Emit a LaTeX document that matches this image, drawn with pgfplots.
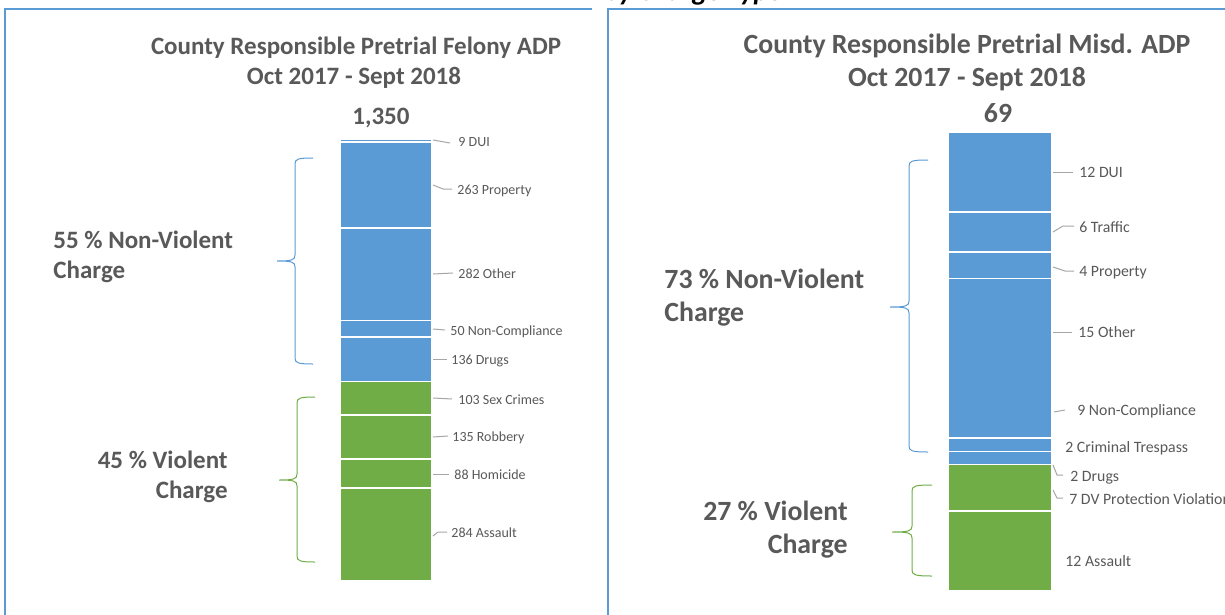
\documentclass[border=0pt]{standalone}
\usepackage{pgfplots}
\pgfplotsset{compat=1.18}
\usepackage{fontspec}
\setmainfont{Carlito}
\definecolor{cblue}{HTML}{5B9BD5}
\definecolor{cgreen}{HTML}{70AD47}
\definecolor{tgray}{HTML}{595959}
\definecolor{lgray}{HTML}{A6A6A6}
\newcommand\fs[1]{\fontsize{#1}{#1}\selectfont}
% style, x-end, x-spine, y-top, y-tip, x-tip, y-bottom
\newcommand\Brace[7]{\draw[#1] (#2,#4) .. controls ({#3+3},#4) and (#3,{#4+1}) .. (#3,{#4+6}) -- (#3,{#5-6}) .. controls (#3,{#5-1}) and ({#3-3},#5) .. (#6,#5) .. controls ({#3-3},#5) and (#3,{#5+1}) .. (#3,{#5+6}) -- (#3,{#7-6}) .. controls (#3,{#7-1}) and ({#3+3},#7) .. (#2,#7);}
\begin{document}
\begin{tikzpicture}
\path[use as bounding box] (0pt,0pt) rectangle (612.5pt,-307.5pt);
\clip (0pt,0pt) rectangle (612.5pt,-307.5pt);
\fill[white] (0pt,0pt) rectangle (612.5pt,-307.5pt);

% ---------- left chart (felony) ----------
\begin{axis}[at={(170pt,-290.5pt)}, anchor=south west, scale only axis,
  width=46pt, height=221pt, xmin=-0.5, xmax=0.5, ymin=0, ymax=1350,
  enlargelimits=false, hide axis, ybar stacked, bar width=1, clip=false]
\addplot[fill=cgreen, draw=white, line width=0.75pt] coordinates {(0,284)}; % Assault
\addplot[fill=cgreen, draw=white, line width=0.75pt] coordinates {(0,88)};  % Homicide
\addplot[fill=cgreen, draw=white, line width=0.75pt] coordinates {(0,135)}; % Robbery
\addplot[fill=cgreen, draw=white, line width=0.75pt] coordinates {(0,103)}; % Sex Crimes
\addplot[fill=cblue, draw=white, line width=0.75pt] coordinates {(0,136)};  % Drugs
\addplot[fill=cblue, draw=white, line width=0.75pt] coordinates {(0,50)};   % Non-Compliance
\addplot[fill=cblue, draw=white, line width=0.75pt] coordinates {(0,282)};  % Other
\addplot[fill=cblue, draw=white, line width=0.75pt] coordinates {(0,263)};  % Property
\addplot[fill=cblue, draw=white, line width=0.75pt] coordinates {(0,9)};    % DUI
\end{axis}

% ---------- right chart (misdemeanor) ----------
\begin{axis}[at={(474pt,-295.5pt)}, anchor=south west, scale only axis,
  width=52pt, height=229.5pt, xmin=-0.5, xmax=0.5, ymin=0, ymax=69,
  enlargelimits=false, hide axis, ybar stacked, bar width=1, clip=false]
\addplot[fill=cgreen, draw=white, line width=0.75pt] coordinates {(0,12)}; % Assault
\addplot[fill=cgreen, draw=white, line width=0.75pt] coordinates {(0,7)};  % DV Protection Violation
\addplot[fill=cblue, draw=white, line width=0.75pt] coordinates {(0,2)};   % Drugs
\addplot[fill=cblue, draw=white, line width=0.75pt] coordinates {(0,2)};   % Criminal Trespass
\addplot[fill=cblue, draw=cblue, line width=0.75pt, bar width=0.971] coordinates {(0,9)};   % Non-Compliance
\addplot[fill=cblue, draw=white, line width=0.75pt] coordinates {(0,15)};  % Other
\addplot[fill=cblue, draw=white, line width=0.75pt] coordinates {(0,4)};   % Property
\addplot[fill=cblue, draw=white, line width=0.75pt] coordinates {(0,6)};   % Traffic
\addplot[fill=cblue, draw=white, line width=0.75pt] coordinates {(0,12)};  % DUI
\end{axis}

\begin{scope}[x=0.5pt, y=-0.5pt]
% panel borders
\draw[cblue, line width=1pt] (5,620) -- (5,9) -- (592,9);
\draw[cblue, line width=1pt] (608,620) -- (608,9) -- (1230,9);
% clipped heading at top
\node[anchor=base west, inner sep=0pt, font=\fs{14pt}\bfseries\itshape] at (604,1) {by Charge Type};

% titles
\begin{scope}[every node/.style={anchor=base, inner sep=0pt, text=tgray, font=\fs{12.5pt}\bfseries}]
\node at (356,55) {County Responsible Pretrial Felony ADP};
\node at (354,85) {Oct 2017 - Sept 2018};
\node at (381,125) {1,350};
\end{scope}
\begin{scope}[every node/.style={anchor=base, inner sep=0pt, text=tgray, font=\fs{13.9pt}\bfseries}]
\node at (967,54) {County Responsible Pretrial Misd. ADP};
\node at (967,87) {Oct 2017 - Sept 2018};
\node at (998,122) {69};
\end{scope}

% group labels
\begin{scope}[every node/.style={inner sep=0pt, text=tgray, font=\fs{12.5pt}\bfseries}]
\node[anchor=base west] at (53,248) {55 \% Non-Violent};
\node[anchor=base west] at (53,278) {Charge};
\node[anchor=base east] at (228,468) {45 \% Violent};
\node[anchor=base east] at (228,498) {Charge};
\end{scope}
\begin{scope}[every node/.style={inner sep=0pt, text=tgray, font=\fs{13.9pt}\bfseries}]
\node[anchor=base west] at (664,288) {73 \% Non-Violent};
\node[anchor=base west] at (664,321) {Charge};
\node[anchor=base east] at (848,520) {27 \% Violent};
\node[anchor=base east] at (848,553) {Charge};
\end{scope}

% braces
\Brace{cblue, line width=0.5pt}{313}{295}{158}{261}{277}{364}
\Brace{cgreen, line width=0.5pt}{315}{297}{397}{480}{279}{562}
\Brace{cblue, line width=0.5pt}{928}{909}{160}{307}{890}{452}
\Brace{cgreen, line width=0.5pt}{932}{912}{485}{532}{892}{576}

% leader lines left
\begin{scope}[lgray, line width=0.5pt]
\draw (433,140) -- (450,143);
\draw (433,185) -- (443,189) -- (452,189);
\draw (433,274) -- (453,273);
\draw (433,329) -- (445,330);
\draw (433,359) -- (447,359);
\draw (433,398) -- (452,399);
\draw (433,437) -- (448,436);
\draw (433,474) -- (449,474);
\draw (433,536) -- (438,532) -- (447,532);
% leader lines right
\draw (1053,172) -- (1073,172);
\draw (1053,232) -- (1063,226) -- (1074,226);
\draw (1053,267) -- (1065,271) -- (1074,271);
\draw (1053,332) -- (1072,332);
\draw (1054,412) -- (1065,410);
\draw (1053,465) -- (1057,475) -- (1063,475);
\draw (1053,490) -- (1057,498) -- (1063,498);
\end{scope}

% data labels left
\begin{scope}[every node/.style={anchor=base west, inner sep=0pt, text=tgray, font=\fs{7pt}}]
\node at (458,147) {9 DUI};
\node at (457,194) {263 Property};
\node at (458,278) {282 Other};
\node at (450,335) {50 Non-Compliance};
\node at (451,364) {136 Drugs};
\node at (458,404) {103 Sex Crimes};
\node at (452,441) {135 Robbery};
\node at (454,479) {88 Homicide};
\node at (451,537) {284 Assault};
\end{scope}
% data labels right
\begin{scope}[every node/.style={anchor=base west, inner sep=0pt, text=tgray, font=\fs{7.9pt}}]
\node at (1079,177) {12 DUI};
\node at (1079,232) {6 Traffic};
\node at (1079,276) {4 Property};
\node at (1078,337) {15 Other};
\node at (1077,415) {9 Non-Compliance};
\node at (1065,452) {2 Criminal Trespass};
\node at (1070,481) {2 Drugs};
\node at (1069,504) {7 DV Protection Violation};
\node at (1065,566) {12 Assault};
\end{scope}
\end{scope}
\end{tikzpicture}
\end{document}
